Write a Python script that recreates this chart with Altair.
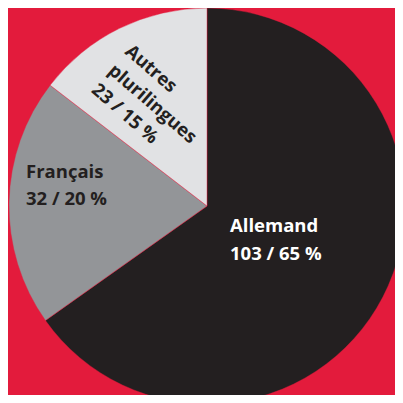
import altair as alt
import pandas as pd

categories = ["Allemand", "Français", "Autres plurilingues"]
counts = [103, 32, 23]
colors = ["#231f20", "#939598", "#e1e2e4"]

label_allemand = ["Allemand", "103 / 65 %"]
label_francais = ["Français", "32 / 20 %"]
label_autres = ["Autres", "plurilingues", "23 / 15 %"]

df = pd.DataFrame({"cat": categories, "n": counts, "o": list(range(len(categories)))})

CX, CY, R = 199, 198, 198
FONT = "Open Sans"

pie = alt.Chart(df).mark_arc(outerRadius=R, stroke="#e31b3c", strokeWidth=0.4).encode(
    theta=alt.Theta("n:Q", stack=True),
    order=alt.Order("o:O"),
    color=alt.Color("cat:N", scale=alt.Scale(domain=categories, range=colors), legend=None),
    x=alt.value(CX),
    y=alt.value(CY),
)

def label(lines, x, y, color, lh, angle=0):
    d = pd.DataFrame({"t": [lines]})
    return alt.Chart(d).mark_text(
        font=FONT, fontWeight="bold", fontSize=18.5, align="left", baseline="alphabetic",
        lineHeight=lh, color=color, angle=angle,
    ).encode(text="t", x=alt.value(x), y=alt.value(y))

chart = alt.layer(
    pie,
    label(label_allemand, 222, 224, "#ffffff", 28),
    label(label_francais, 18, 170, "#231f20", 27),
    label(label_autres, 116, 45, "#231f20", 25.5, 41),
).properties(
    width=387, height=387, background="#e31b3c", padding=0,
    autosize=alt.AutoSizeParams(type="none"),
).configure_view(stroke=None)

chart.save("out.html", embed_options={"renderer": "svg", "actions": False})
